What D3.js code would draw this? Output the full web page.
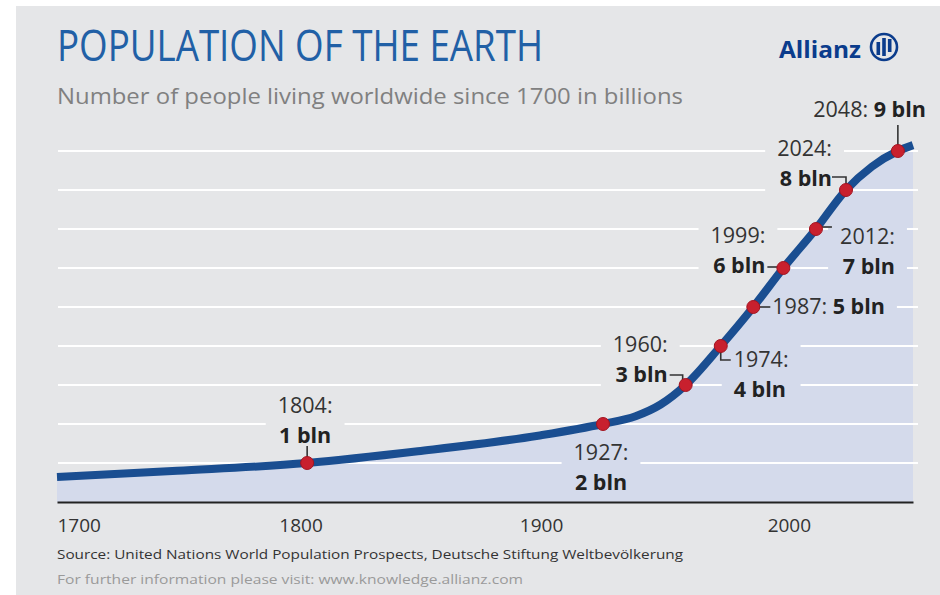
<!DOCTYPE html>
<html><head><meta charset="utf-8">
<script src="https://cdn.jsdelivr.net/npm/d3@7"></script>
<style>
html,body{margin:0;padding:0;background:#fff;}
svg{display:block;}
text{font-family:"Open Sans",Roboto,sans-serif;}
</style>
</head><body>
<svg id="chart" width="940" height="595"></svg>
<script>
// ---- data ----
const years      = [1700, 1750, 1804, 1850, 1900, 1927, 1940, 1950, 1960, 1974, 1987, 1999, 2012, 2024, 2036, 2048, 2055];
const population = [0.64, 0.80, 1.0,  1.3,  1.7,  2.0,  2.2,  2.5,  3.0,  4.0,  5.0,  6.0,  7.0,  8.0,  8.6,  9.0,  9.15];
const milestoneYears  = [1804, 1927, 1960, 1974, 1987, 1999, 2012, 2024, 2048];
const milestoneValues = [1, 2, 3, 4, 5, 6, 7, 8, 9];
const milestoneYearLabels  = ["1804:", "1927:", "1960:", "1974:", "1987:", "1999:", "2012:", "2024:", "2048:"];
const milestoneValueLabels = ["1 bln", "2 bln", "3 bln", "4 bln", "5 bln", "6 bln", "7 bln", "8 bln", "9 bln"];
const xTickValues = [1700, 1800, 1900, 2000];
const gridValues  = [1, 2, 3, 4, 5, 6, 7, 8, 9];
const titleText    = "POPULATION OF THE EARTH";
const subtitleText = "Number of people living worldwide since 1700 in billions";
const brandText    = "Allianz";
const sourceText   = "Source: United Nations World Population Prospects, Deutsche Stiftung Weltbevölkerung";
const infoText     = "For further information please visit: www.knowledge.allianz.com";

// ---- layout ----
const W = 940, H = 595;
const svg = d3.select("#chart");
const bg = "#e5e6e8", fillCol = "#d4daeb", lineCol = "#1a4e91", dotCol = "#c8202e";

const x = d3.scaleLinear().domain([1700, 1927, 2024, 2055]).range([57, 603, 846, 913]);
const y = d3.scaleLinear().domain([0, 9]).range([502, 151]);

const series = years.map((yr, i) => ({year: yr, value: population[i]}));
const milestones = milestoneYears.map((yr, i) => ({year: yr, value: milestoneValues[i], yl: milestoneYearLabels[i], vl: milestoneValueLabels[i]}));

const defs = svg.append("defs");
const mask = defs.append("mask").attr("id", "gridMask").attr("maskUnits", "userSpaceOnUse")
  .attr("x", 0).attr("y", 0).attr("width", W).attr("height", H);
mask.append("rect").attr("width", W).attr("height", H).attr("fill", "#fff");

svg.append("rect").attr("x", 16).attr("y", 6).attr("width", W - 16).attr("height", H - 6).attr("fill", bg);

const curve = d3.curveMonotoneX;

// area
svg.append("path").datum(series)
  .attr("d", d3.area().x(d => x(d.year)).y0(y(0)).y1(d => y(d.value)).curve(curve))
  .attr("fill", fillCol);

// gridlines
svg.append("g").attr("mask", "url(#gridMask)")
  .selectAll("line").data(gridValues).join("line")
  .attr("x1", 58).attr("x2", 918)
  .attr("y1", d => y(d)).attr("y2", d => y(d))
  .attr("stroke", "#fff").attr("stroke-width", 2);

// x axis
const axisG = svg.append("g").attr("transform", `translate(0,${y(0)})`)
  .call(d3.axisBottom(x).tickValues(xTickValues).tickSize(0).tickSizeOuter(0).tickFormat(d3.format("d")));
axisG.select(".domain").attr("stroke", "#222").attr("stroke-width", 2);
axisG.selectAll(".tick text")
  .attr("y", 30).attr("dy", 0).attr("font-size", 19).attr("fill", "#333")
  .attr("font-family", "'Open Sans', sans-serif")
  .attr("text-anchor", (d, i) => i === 0 ? "start" : "middle")
  .attr("dx", (d, i) => i === 0 ? 0 : 3);

// line
svg.append("path").datum(series)
  .attr("d", d3.line().x(d => x(d.year)).y(d => y(d.value)).curve(curve))
  .attr("fill", "none").attr("stroke", lineCol).attr("stroke-width", 8);

// labels layout (offsets relative to the milestone dot)
const labelLayout = {
  1804: {anchor: "middle", dx: -2, lines: [-50, -20], conn: (a, b) => `M${a},${b - 17}V${b}`},
  1927: {anchor: "middle", dx: -2, lines: [36, 66], conn: null},
  1960: {anchor: "end", dx: -18, lines: [-33, -3], conn: (a, b) => `M${a - 16},${b - 10}H${a - 3}V${b}`},
  1974: {anchor: "start", dx: 13, lines: [21, 51], conn: (a, b) => `M${a},${b}V${b + 14}H${a + 10}`},
  1987: {anchor: "start", dx: 19, lines: [7], conn: (a, b) => `M${a},${b}H${a + 17}`},
  1999: {anchor: "end", dx: -18, lines: [-25, 5], conn: (a, b) => `M${a - 16},${b - 1}H${a}`},
  2012: {anchor: "end", dx: 79, lines: [15, 45], conn: (a, b) => `M${a},${b - 2}H${a + 16}`},
  2024: {anchor: "end", dx: -14, lines: [-34, -4], conn: (a, b) => `M${a - 14},${b - 13}H${a}V${b}`},
  2048: {anchor: "end", dx: 28, lines: [-34], conn: (a, b) => `M${a},${b - 26}V${b}`}
};

// connectors
svg.append("g").selectAll("path").data(milestones.filter(d => labelLayout[d.year].conn)).join("path")
  .attr("d", d => labelLayout[d.year].conn(x(d.year), y(d.value)))
  .attr("fill", "none").attr("stroke", "#333").attr("stroke-width", 1.6);

// dots
svg.append("g").selectAll("circle").data(milestones).join("circle")
  .attr("cx", d => x(d.year)).attr("cy", d => y(d.value)).attr("r", 6.5)
  .attr("fill", dotCol).attr("stroke", "#a31420").attr("stroke-width", 1);

// label texts
const labelG = svg.append("g");
milestones.forEach(d => {
  const L = labelLayout[d.year];
  const px = x(d.year) + L.dx, py = y(d.value);
  const t = labelG.append("text").attr("x", px).attr("y", py + L.lines[0])
    .attr("text-anchor", L.anchor).attr("font-size", 21.5);
  if (L.lines.length === 1) {
    t.append("tspan").attr("fill", "#333").text(d.yl + " ");
    t.append("tspan").attr("fill", "#222").attr("font-weight", 700).text(d.vl);
  } else {
    t.append("tspan").attr("x", px).attr("fill", "#333").text(d.yl);
    t.append("tspan").attr("x", px).attr("dy", L.lines[1] - L.lines[0])
      .attr("fill", "#222").attr("font-weight", 700).text(d.vl);
  }
  const bb = t.node().getBBox();
  mask.append("rect").attr("x", bb.x - 12).attr("y", bb.y).attr("width", bb.width + 24).attr("height", bb.height).attr("fill", "#000");
});

// title & subtitle
svg.append("text").attr("x", 57).attr("y", 61).attr("font-size", 44).attr("fill", "#2160a6")
  .attr("textLength", 486).attr("lengthAdjust", "spacingAndGlyphs").text(titleText);
svg.append("text").attr("x", 57).attr("y", 104).attr("font-size", 21).attr("fill", "#808080")
  .attr("textLength", 626).attr("lengthAdjust", "spacingAndGlyphs").text(subtitleText);

// brand
svg.append("text").attr("x", 779).attr("y", 58).attr("font-size", 24).attr("font-weight", 700).attr("fill", "#0b3c8c")
  .attr("textLength", 82).attr("lengthAdjust", "spacingAndGlyphs").text(brandText);
const logo = svg.append("g").attr("transform", "translate(884,47)");
logo.append("circle").attr("r", 13).attr("fill", "none").attr("stroke", "#0b3c8c").attr("stroke-width", 2.6);
logo.append("rect").attr("x", -7.5).attr("y", -5).attr("width", 3.6).attr("height", 13).attr("fill", "#0b3c8c");
logo.append("rect").attr("x", -1.8).attr("y", -9).attr("width", 3.6).attr("height", 18).attr("fill", "#0b3c8c");
logo.append("rect").attr("x", 3.9).attr("y", -8).attr("width", 3.6).attr("height", 13).attr("fill", "#0b3c8c");

// source
svg.append("text").attr("x", 57).attr("y", 559).attr("font-size", 13.5).attr("fill", "#333")
  .attr("textLength", 626).attr("lengthAdjust", "spacingAndGlyphs").text(sourceText);
svg.append("text").attr("x", 57).attr("y", 584).attr("font-size", 13.5).attr("fill", "#9a9a9a")
  .attr("textLength", 466).attr("lengthAdjust", "spacingAndGlyphs").text(infoText);
</script>
</body></html>
